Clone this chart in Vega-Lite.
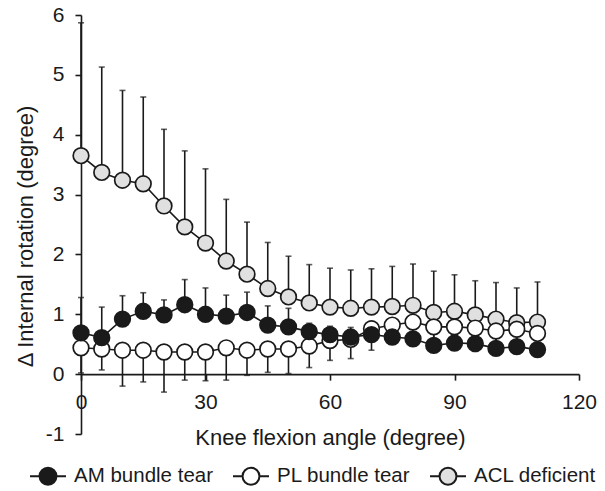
{
  "$schema": "https://vega.github.io/schema/vega-lite/v6.json",
  "width": 498,
  "height": 419,
  "autosize": "none",
  "padding": {"left": 81, "top": 15, "right": 26, "bottom": 57},
  "config": {
    "view": {"stroke": null},
    "font": "Liberation Sans",
    "axis": {"grid": false, "domainColor": "#1a1a1a", "tickColor": "#1a1a1a", "domainWidth": 1.6, "tickWidth": 1.6, "tickSize": 6, "labelFontSize": 21, "labelColor": "#1a1a1a", "labelPadding": 11, "labelFlush": false, "titleFontSize": 22, "titleFontWeight": "normal", "titleColor": "#1a1a1a"}
  },
  "data": {
    "values": [
      {"angle": 0, "group": "ACL deficient", "mean": 3.65, "bar_end": 5.87},
      {"angle": 5, "group": "ACL deficient", "mean": 3.37, "bar_end": 5.13},
      {"angle": 10, "group": "ACL deficient", "mean": 3.24, "bar_end": 4.74},
      {"angle": 15, "group": "ACL deficient", "mean": 3.18, "bar_end": 4.63},
      {"angle": 20, "group": "ACL deficient", "mean": 2.81, "bar_end": 4.09},
      {"angle": 25, "group": "ACL deficient", "mean": 2.46, "bar_end": 3.73},
      {"angle": 30, "group": "ACL deficient", "mean": 2.19, "bar_end": 3.43},
      {"angle": 35, "group": "ACL deficient", "mean": 1.89, "bar_end": 2.92},
      {"angle": 40, "group": "ACL deficient", "mean": 1.67, "bar_end": 2.54},
      {"angle": 45, "group": "ACL deficient", "mean": 1.43, "bar_end": 2.2},
      {"angle": 50, "group": "ACL deficient", "mean": 1.29, "bar_end": 1.97},
      {"angle": 55, "group": "ACL deficient", "mean": 1.19, "bar_end": 1.83},
      {"angle": 60, "group": "ACL deficient", "mean": 1.12, "bar_end": 1.77},
      {"angle": 65, "group": "ACL deficient", "mean": 1.1, "bar_end": 1.74},
      {"angle": 70, "group": "ACL deficient", "mean": 1.12, "bar_end": 1.76},
      {"angle": 75, "group": "ACL deficient", "mean": 1.13, "bar_end": 1.8},
      {"angle": 80, "group": "ACL deficient", "mean": 1.15, "bar_end": 1.84},
      {"angle": 85, "group": "ACL deficient", "mean": 1.03, "bar_end": 1.72},
      {"angle": 90, "group": "ACL deficient", "mean": 1.05, "bar_end": 1.66},
      {"angle": 95, "group": "ACL deficient", "mean": 0.99, "bar_end": 1.56},
      {"angle": 100, "group": "ACL deficient", "mean": 0.92, "bar_end": 1.53},
      {"angle": 105, "group": "ACL deficient", "mean": 0.86, "bar_end": 1.44},
      {"angle": 110, "group": "ACL deficient", "mean": 0.87, "bar_end": 1.54},
      {"angle": 0, "group": "PL bundle tear", "mean": 0.44, "bar_end": 0.02},
      {"angle": 5, "group": "PL bundle tear", "mean": 0.42, "bar_end": 0.07},
      {"angle": 10, "group": "PL bundle tear", "mean": 0.4, "bar_end": -0.2},
      {"angle": 15, "group": "PL bundle tear", "mean": 0.4, "bar_end": -0.13},
      {"angle": 20, "group": "PL bundle tear", "mean": 0.37, "bar_end": -0.3},
      {"angle": 25, "group": "PL bundle tear", "mean": 0.37, "bar_end": -0.1},
      {"angle": 30, "group": "PL bundle tear", "mean": 0.37, "bar_end": -0.11},
      {"angle": 35, "group": "PL bundle tear", "mean": 0.44, "bar_end": -0.1},
      {"angle": 40, "group": "PL bundle tear", "mean": 0.4, "bar_end": -0.02},
      {"angle": 45, "group": "PL bundle tear", "mean": 0.42, "bar_end": 0.03},
      {"angle": 50, "group": "PL bundle tear", "mean": 0.42, "bar_end": 0.01},
      {"angle": 55, "group": "PL bundle tear", "mean": 0.47, "bar_end": 0.11},
      {"angle": 60, "group": "PL bundle tear", "mean": 0.56, "bar_end": 0.23},
      {"angle": 65, "group": "PL bundle tear", "mean": 0.58, "bar_end": 0.26},
      {"angle": 70, "group": "PL bundle tear", "mean": 0.76, "bar_end": 0.4},
      {"angle": 75, "group": "PL bundle tear", "mean": 0.82, "bar_end": 0.5},
      {"angle": 80, "group": "PL bundle tear", "mean": 0.87, "bar_end": 0.48},
      {"angle": 85, "group": "PL bundle tear", "mean": 0.79, "bar_end": 0.38},
      {"angle": 90, "group": "PL bundle tear", "mean": 0.79, "bar_end": 0.4},
      {"angle": 95, "group": "PL bundle tear", "mean": 0.77, "bar_end": 0.38},
      {"angle": 100, "group": "PL bundle tear", "mean": 0.72, "bar_end": 0.32},
      {"angle": 105, "group": "PL bundle tear", "mean": 0.75, "bar_end": 0.35},
      {"angle": 110, "group": "PL bundle tear", "mean": 0.68, "bar_end": 0.3},
      {"angle": 0, "group": "AM bundle tear", "mean": 0.69, "bar_end": 1.28},
      {"angle": 5, "group": "AM bundle tear", "mean": 0.61, "bar_end": 1.12},
      {"angle": 10, "group": "AM bundle tear", "mean": 0.92, "bar_end": 1.31},
      {"angle": 15, "group": "AM bundle tear", "mean": 1.05, "bar_end": 1.36},
      {"angle": 20, "group": "AM bundle tear", "mean": 0.99, "bar_end": 1.24},
      {"angle": 25, "group": "AM bundle tear", "mean": 1.16, "bar_end": 1.58},
      {"angle": 30, "group": "AM bundle tear", "mean": 1.0, "bar_end": 1.44},
      {"angle": 35, "group": "AM bundle tear", "mean": 0.97, "bar_end": 1.32},
      {"angle": 40, "group": "AM bundle tear", "mean": 1.03, "bar_end": 1.37},
      {"angle": 45, "group": "AM bundle tear", "mean": 0.82, "bar_end": 1.14},
      {"angle": 50, "group": "AM bundle tear", "mean": 0.79, "bar_end": 1.1},
      {"angle": 55, "group": "AM bundle tear", "mean": 0.71, "bar_end": 0.85},
      {"angle": 60, "group": "AM bundle tear", "mean": 0.66, "bar_end": 0.8},
      {"angle": 65, "group": "AM bundle tear", "mean": 0.62, "bar_end": 0.78},
      {"angle": 70, "group": "AM bundle tear", "mean": 0.66, "bar_end": 0.88},
      {"angle": 75, "group": "AM bundle tear", "mean": 0.62, "bar_end": 0.9},
      {"angle": 80, "group": "AM bundle tear", "mean": 0.59, "bar_end": 0.92},
      {"angle": 85, "group": "AM bundle tear", "mean": 0.48, "bar_end": 0.8},
      {"angle": 90, "group": "AM bundle tear", "mean": 0.52, "bar_end": 0.82},
      {"angle": 95, "group": "AM bundle tear", "mean": 0.51, "bar_end": 0.8},
      {"angle": 100, "group": "AM bundle tear", "mean": 0.43, "bar_end": 0.74},
      {"angle": 105, "group": "AM bundle tear", "mean": 0.46, "bar_end": 0.76},
      {"angle": 110, "group": "AM bundle tear", "mean": 0.41, "bar_end": 0.7}
    ]
  },
  "encoding": {
    "x": {
      "field": "angle", "type": "quantitative",
      "scale": {"domain": [0, 120], "nice": false},
      "axis": {"values": [0, 30, 60, 90, 120], "offset": -59.86, "title": "Knee flexion angle (degree)", "titleX": 249, "titleY": 70, "titleAlign": "center", "titleBaseline": "alphabetic"}
    },
    "y": {
      "field": "mean", "type": "quantitative",
      "scale": {"domain": [-1, 6], "nice": false, "zero": false},
      "axis": {"values": [-1, 0, 1, 2, 3, 4, 5, 6], "labelExpr": "'' + datum.value", "title": "Δ Internal rotation (degree)", "titleX": -49, "titleY": 221, "titleAngle": 270, "titleAlign": "center", "titleBaseline": "alphabetic"}
    }
  },
  "layer": [
    {
      "mark": {"type": "rule", "color": "#1a1a1a", "strokeWidth": 1.6},
      "encoding": {"y2": {"field": "bar_end"}}
    },
    {
      "mark": {"type": "tick", "orient": "horizontal", "size": 6, "thickness": 1.6, "color": "#1a1a1a"},
      "encoding": {"y": {"field": "bar_end", "type": "quantitative"}}
    },
    {
      "mark": {"type": "line", "color": "#1a1a1a", "strokeWidth": 1.6},
      "encoding": {"detail": {"field": "group"}}
    },
    {
      "mark": {"type": "circle", "size": 245, "stroke": "#1a1a1a", "strokeWidth": 1.7, "opacity": 1, "fillOpacity": 1},
      "encoding": {
        "fill": {
          "field": "group", "type": "nominal",
          "scale": {"domain": ["AM bundle tear", "PL bundle tear", "ACL deficient"], "range": ["#1a1a1a", "#ffffff", "#e0e0e0"]},
          "legend": {
            "title": null, "orient": "none", "legendX": -52, "legendY": 442, "direction": "horizontal", "columns": 3,
            "padding": 0, "symbolType": "M-1,0H-0.47M0.47,0H1M-0.47,0A0.47,0.47,0,1,1,0.47,0A0.47,0.47,0,1,1,-0.47,0Z",
            "symbolSize": 1296, "symbolStrokeColor": "#1a1a1a", "symbolStrokeWidth": 2, "symbolOpacity": 1,
            "labelFontSize": 20.5, "labelColor": "#1a1a1a", "labelOffset": 7, "columnPadding": 15
          }
        }
      }
    }
  ]
}
